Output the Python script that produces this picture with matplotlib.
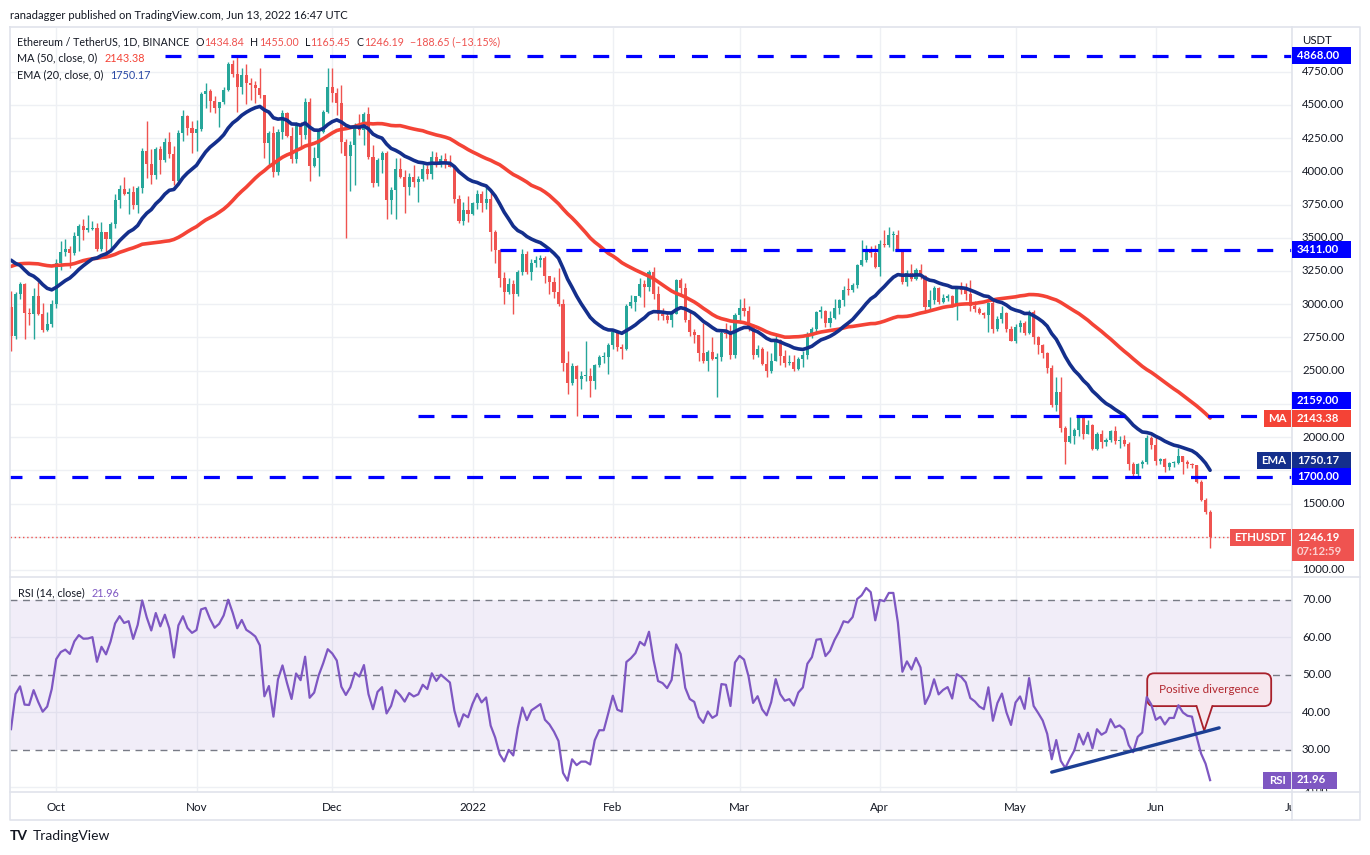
import numpy as np
import pandas as pd
import matplotlib
matplotlib.use('Agg')
import matplotlib.pyplot as plt
from matplotlib.patches import Rectangle, FancyBboxPatch, Polygon
from matplotlib.lines import Line2D
from matplotlib.transforms import IdentityTransform, Bbox

plt.rcParams['font.family'] = ['Lato', 'DejaVu Sans']

# ---- data: ETH/USDT daily, 2021-09-21 .. 2022-06-13 ----
start_date = '2021-09-21'

# closes before the visible range (2021-07-20 .. 2021-09-20), only used for indicators
warmup_close = [1785, 1995, 2025, 2123, 2188, 2190, 2230, 2300, 2298, 2382, 2460, 2536,
                2556, 2608, 2508, 2725, 2827, 2890, 3158, 3013, 3164, 3141, 3164, 3045, 3322,
                3265, 3310, 3148, 3012, 3018, 3182, 3286, 3224, 3242, 3321, 3173, 3228, 3096,
                3270, 3242, 3226, 3225, 3433,
                3834, 3787, 3940, 3888, 3952, 3927, 3428, 3497, 3427, 3213, 3266, 3410, 3286,
                3430, 3614, 3572, 3398, 3432, 3330, 2977]

sep_close = [2763, 3077, 3155, 2931, 2926, 3063, 2928, 2806, 2849, 3000]
sep_high = [3100, 3095, 3170, 3160, 2970, 3120, 3170, 3010, 2940, 3030]
sep_low = [2651, 2740, 3036, 2740, 2845, 2742, 2920, 2793, 2802, 2830]

oct_close = [3308, 3390, 3418, 3382, 3517, 3588, 3562, 3564, 3577, 3414, 3544, 3493, 3605, 3786,
             3868, 3828, 3846, 3746, 3875, 4155, 4054, 3972, 4170, 4085, 4220, 4132, 3924, 4287,
             4414, 4325, 4288]
oct_high = [3340, 3472, 3493, 3440, 3546, 3600, 3642, 3670, 3628, 3610, 3615, 3545, 3620, 3827,
            3895, 3960, 3875, 3891, 3888, 4179, 4375, 4170, 4180, 4190, 4250, 4295, 4190, 4310,
            4460, 4425, 4379]
oct_low = [2970, 3260, 3360, 3273, 3370, 3400, 3480, 3540, 3555, 3400, 3400, 3390, 3425, 3577,
           3727, 3820, 3680, 3718, 3690, 3840, 3950, 3905, 3940, 3980, 4070, 4100, 3900, 3900,
           4230, 4270, 4140]

nov_close = [4321, 4584, 4605, 4532, 4475, 4518, 4611, 4808, 4730, 4634, 4724, 4664, 4646, 4625,
             4575, 4214, 4288, 3995, 4299, 4436, 4265, 4092, 4340, 4270, 4525, 4040, 4097, 4294,
             4445, 4632]
nov_high = [4388, 4600, 4667, 4616, 4570, 4525, 4632, 4825, 4838, 4868, 4780, 4810, 4700, 4680,
            4775, 4575, 4300, 4340, 4315, 4465, 4450, 4330, 4374, 4370, 4550, 4550, 4180, 4300,
            4460, 4778]
nov_low = [4150, 4300, 4475, 4450, 4440, 4330, 4505, 4607, 4710, 4450, 4580, 4510, 4540, 4515,
           4550, 4100, 4050, 3960, 3975, 4240, 4260, 4065, 4063, 4180, 4240, 3930, 4035, 3965,
           4290, 4440]

dec_close = [4587, 4515, 4220, 4115, 4195, 4350, 4310, 4432, 4110, 3910, 4085, 4135, 3785, 3860,
             4020, 3960, 3880, 3960, 3922, 3940, 4020, 3980, 4110, 4045, 4095, 4065, 4035, 3795,
             3630, 3710, 3680]
dec_high = [4778, 4630, 4650, 4240, 4230, 4365, 4430, 4445, 4486, 4195, 4100, 4150, 4150, 3880,
            4100, 4100, 4013, 3990, 4045, 3967, 4058, 4050, 4150, 4145, 4125, 4135, 4125, 4040,
            3825, 3770, 3815]
dec_low = [4525, 4425, 4140, 3500, 3850, 3900, 4275, 4200, 4095, 3880, 3890, 3990, 3640, 3676,
           3640, 3950, 3685, 3820, 3880, 3770, 3925, 3945, 3940, 4030, 4035, 4025, 4030, 3760,
           3610, 3595, 3620]

jan_close = [3765, 3830, 3760, 3790, 3540, 3410, 3195, 3090, 3155, 3080, 3240, 3375, 3245, 3310,
             3330, 3350, 3210, 3165, 3095, 3000, 2560, 2410, 2535, 2440, 2460, 2460, 2420, 2545,
             2600, 2600, 2690]
jan_high = [3770, 3860, 3855, 3880, 3850, 3560, 3415, 3240, 3200, 3180, 3255, 3415, 3400, 3340,
            3365, 3370, 3360, 3210, 3205, 3270, 3040, 2650, 2555, 2540, 2500, 2725, 2520, 2550,
            2620, 2640, 2705]
jan_low = [3675, 3715, 3695, 3720, 3400, 3310, 3130, 3000, 3080, 2930, 3060, 3220, 3225, 3180,
           3280, 3280, 3160, 3075, 3050, 2990, 2500, 2325, 2390, 2160, 2360, 2420, 2300, 2360,
           2530, 2560, 2475]

feb_close = [2790, 2680, 2665, 2990, 3020, 3060, 3150, 3130, 3240, 3075, 2930, 2915, 2880, 2930,
             3185, 3125, 2885, 2790, 2765, 2630, 2575, 2640, 2585, 2600, 2780, 2775, 2620, 2920]
feb_high = [2815, 2800, 2700, 3000, 3070, 3065, 3195, 3180, 3260, 3280, 3140, 2970, 2950, 2945,
            3190, 3200, 3160, 2945, 2810, 2770, 2860, 2655, 2750, 2630, 2800, 2860, 2840, 2935]
feb_low = [2660, 2650, 2590, 2655, 2975, 2950, 3055, 2980, 3100, 3040, 2885, 2880, 2860, 2830,
           2925, 3060, 2865, 2760, 2705, 2570, 2560, 2495, 2580, 2300, 2570, 2745, 2590, 2595]

mar_close = [2975, 2950, 2835, 2620, 2665, 2550, 2495, 2575, 2730, 2610, 2555, 2565, 2515, 2590,
             2620, 2770, 2815, 2945, 2950, 2860, 2895, 2970, 3030, 3110, 3105, 3145, 3295, 3330,
             3400, 3385, 3280]
mar_high = [3040, 3050, 2985, 2850, 2690, 2675, 2645, 2630, 2770, 2735, 2655, 2615, 2620, 2605,
            2650, 2790, 2830, 2950, 2990, 2955, 2950, 3040, 3040, 3135, 3195, 3160, 3300, 3480,
            3445, 3435, 3445]
mar_low = [2860, 2910, 2800, 2590, 2600, 2545, 2450, 2480, 2570, 2545, 2530, 2545, 2500, 2505,
           2530, 2590, 2745, 2775, 2900, 2830, 2825, 2890, 2930, 2990, 3070, 3090, 3125, 3290,
           3320, 3355, 3270]

apr_close = [3450, 3445, 3520, 3520, 3410, 3170, 3235, 3190, 3260, 3210, 2980, 3030, 3120, 3020,
             3045, 3060, 2990, 3120, 3105, 3075, 2985, 2965, 2935, 2920, 3010, 2810, 2890, 2935,
             2815, 2725]
apr_high = [3480, 3555, 3580, 3550, 3555, 3415, 3255, 3300, 3270, 3305, 3220, 3105, 3140, 3130,
            3075, 3080, 3070, 3130, 3170, 3160, 3180, 3025, 2980, 2945, 3020, 3040, 2915, 2985,
            2940, 2835]
apr_low = [3210, 3430, 3430, 3400, 3400, 3155, 3140, 3175, 3180, 3190, 2950, 2960, 3000, 3000,
           3010, 3025, 2980, 2885, 3075, 3035, 2950, 2940, 2925, 2895, 2790, 2780, 2795, 2860,
           2790, 2720]

may_close = [2830, 2860, 2780, 2940, 2750, 2695, 2635, 2520, 2240, 2340, 2070, 1960, 2010, 2055,
             2145, 2025, 2090, 1910, 2020, 1960, 1975, 2045, 1970, 1980, 1945, 1800, 1725, 1795,
             1815, 1995, 1940]
may_high = [2850, 2885, 2875, 2955, 2955, 2760, 2700, 2640, 2540, 2455, 2455, 2085, 2150, 2070,
            2150, 2150, 2125, 2095, 2040, 2055, 1990, 2055, 2085, 2005, 2015, 1960, 1815, 1805,
            1830, 2015, 2005]
may_low = [2705, 2790, 2765, 2775, 2700, 2625, 2595, 2485, 2230, 2200, 2035, 1800, 1955, 1950,
           2010, 1985, 2020, 1905, 1905, 1920, 1935, 1965, 1950, 1915, 1935, 1750, 1705, 1710,
           1770, 1800, 1910]

jun_close = [1820, 1835, 1775, 1805, 1805, 1860, 1815, 1795, 1790, 1665, 1530, 1434.84, 1246.19]
jun_high = [2000, 1845, 1840, 1810, 1820, 1915, 1860, 1830, 1805, 1790, 1680, 1545, 1455.00]
jun_low = [1790, 1800, 1735, 1755, 1775, 1800, 1720, 1770, 1770, 1655, 1520, 1420, 1165.45]

# analyst's horizontal levels and where they start
level_prices = [4868, 3411, 2159, 1700]
level_starts = ['2021-10-25', '2022-01-07', '2021-12-20', '2021-09-20']

# rsi trend line
trend_dates = ['2022-05-09', '2022-06-15']
trend_rsi = [24.1, 35.9]

month_labels = ['Oct', 'Nov', 'Dec', '2022', 'Feb', 'Mar', 'Apr', 'May', 'Jun', 'Jul']
month_dates = ['2021-10-01', '2021-11-01', '2021-12-01', '2022-01-01', '2022-02-01',
               '2022-03-01', '2022-04-01', '2022-05-01', '2022-06-01', '2022-07-01']
price_grid = [1000, 1250, 1500, 1750, 2000, 2250, 2500, 2750, 3000, 3250, 3500, 3750, 4000,
              4250, 4500, 4750]
price_shown = [1000, 1500, 2000, 2500, 2750, 3000, 3250, 3500, 3750, 4000, 4250, 4500, 4750]
rsi_shown = [30, 40, 50, 60, 70]

close = np.array(sep_close + oct_close + nov_close + dec_close + jan_close + feb_close +
                 mar_close + apr_close + may_close + jun_close, dtype=float)
high = np.array(sep_high + oct_high + nov_high + dec_high + jan_high + feb_high +
                mar_high + apr_high + may_high + jun_high, dtype=float)
low = np.array(sep_low + oct_low + nov_low + dec_low + jan_low + feb_low +
               mar_low + apr_low + may_low + jun_low, dtype=float)

t0 = pd.Timestamp(start_date)
def day(d):
    return (pd.Timestamp(d) - t0).days

nw = len(warmup_close)
full = pd.Series(np.concatenate([np.array(warmup_close, dtype=float), close]))
opens = full.shift(1).to_numpy()[nw:]
ema20 = full.ewm(span=20, adjust=False).mean().to_numpy()[nw:]
ma50 = full.rolling(50).mean().to_numpy()[nw:]
delta = full.diff()
gain = delta.clip(lower=0).ewm(alpha=1 / 14, adjust=False).mean()
loss = (-delta.clip(upper=0)).ewm(alpha=1 / 14, adjust=False).mean()
rsi = (100 - 100 / (1 + gain / loss)).to_numpy()[nw:]

x = np.arange(len(close))

# ---- layout ----
W, H = 1370, 855
fig = plt.figure(figsize=(13.7, 8.55), dpi=100)
fig.patch.set_facecolor('white')

def fx(px):
    return px / W

def fy(py):
    return 1 - py / H

GREEN = '#26a69a'
RED = '#ef5350'
DARK = '#131722'
GRID = '#eef0f4'
BORDER = '#e0e3eb'

ax = fig.add_axes([fx(10), fy(577), fx(1292) - fx(10), fy(28) - fy(577)])
ax_rsi = fig.add_axes([fx(10), fy(792), fx(1292) - fx(10), fy(577) - fy(792)])
ax_x = fig.add_axes([fx(10), fy(820), fx(1292) - fx(10), fy(792) - fy(820)])

xlim = (-0.22, 283.1)
for a in (ax, ax_rsi, ax_x):
    a.set_xlim(*xlim)
    a.set_xticks([])
    a.set_yticks([])
    for s in a.spines.values():
        s.set_visible(False)
ax.set_ylim(947.3, 5078.6)
ax_rsi.set_ylim(18.8, 76.13)
ax_x.set_ylim(0, 1)

month_x = [day(d) for d in month_dates]
for a in (ax, ax_rsi):
    for mx in month_x:
        a.axvline(mx, color=GRID, lw=1, zorder=0)
for p in price_grid:
    ax.axhline(p, color=GRID, lw=1, zorder=0)
for v in (20, 40, 60):
    ax_rsi.axhline(v, color=GRID, lw=1, zorder=0)

# ---- candles ----
up = close >= opens
col = np.where(up, GREEN, RED)
body_lo = np.minimum(opens, close)
body_h = np.maximum(np.abs(close - opens), 8)
ax.vlines(x, np.minimum(low, body_lo), np.maximum(high, body_lo + body_h), colors=col, lw=1,
          zorder=2)
ax.bar(x, body_h, bottom=body_lo, width=0.68, color=col, linewidth=0, zorder=2.1)

ax.plot(x, ma50, color='#f44336', lw=2.6, zorder=3, solid_capstyle='round')
ax.plot(x, ema20, color='#142f8c', lw=2.6, zorder=3, solid_capstyle='round')

for p, s in zip(level_prices, level_starts):
    ax.hlines(p, day(s), xlim[1] + 1, color='#0000ff', lw=2.3, linestyles=(0, (5.0, 5.3)),
              zorder=4)

ax.axhline(close[-1], color=RED, lw=1, ls=(0, (1, 2)), zorder=3)

# ---- rsi panel ----
ax_rsi.axhspan(30, 70, color='#7e57c2', alpha=0.1, lw=0, zorder=0)
for v in (30, 50, 70):
    ax_rsi.axhline(v, color='#787b86', lw=1, ls=(0, (5, 4)), zorder=1)
ax_rsi.plot(x, rsi, color='#7e57c2', lw=1.6, zorder=3)
ax_rsi.plot([day(d) for d in trend_dates], trend_rsi, color='#1c3f94', lw=2.4, zorder=4,
            solid_capstyle='round')

# callout "Positive divergence"
box_fc = '#f7e8ef'
box_ec = '#a8202b'
bx0, by0 = ax_rsi.transData.transform((day('2022-05-30') + 0.1, 41.7))
bx1, by1 = ax_rsi.transData.transform((day('2022-06-26') + 0.5, 50.45))
ax_rsi.add_patch(FancyBboxPatch((bx0, by0), bx1 - bx0, by1 - by0,
                                boxstyle='round,pad=0,rounding_size=7', fc=box_fc, ec=box_ec,
                                lw=1.3, transform=IdentityTransform(), zorder=2))
ptr_x = [day('2022-06-10'), day('2022-06-11') + 0.7, day('2022-06-13') + 0.5]
ptr_y = [41.7, 35.15, 41.7]
ax_rsi.add_patch(Polygon([(ptr_x[0], 42.1), (ptr_x[1], ptr_y[1]), (ptr_x[2], 42.1)],
                         closed=True, fc=box_fc, ec='none', zorder=2.2))
ax_rsi.plot(ptr_x, ptr_y, color=box_ec, lw=1.3, zorder=2.3)
ax_rsi.text((day('2022-05-30') + day('2022-06-26') + 0.6) / 2, 46.1, 'Positive divergence',
            color='#b2282f', fontsize=8.4, ha='center', va='center', zorder=5)

# ---- x labels ----
for mx, lab in zip(month_x, month_labels):
    ax_x.text(mx, 0.45, lab, ha='center', va='center', fontsize=8.4, color=DARK, clip_on=True)

# ---- frame ----
def fline(xs, ys, **kw):
    fig.add_artist(Line2D(xs, [H - v for v in ys], transform=IdentityTransform(),
                          color=BORDER, lw=1.2, zorder=5, **kw))

fline([10, 1360, 1360, 10, 10], [27, 27, 820, 820, 27])
fline([10, 1360], [577, 577])
fline([10, 1360], [792, 792])
fline([1292, 1292], [27, 820])

# ---- texts ----
ID = IdentityTransform()

def ptxt(xp, yp, s, **kw):
    return fig.text(xp, yp, s, transform=ID, **kw)

def run(xp, ytop, parts, size):
    r = fig.canvas.get_renderer()
    for s, c, gap in parts:
        t = ptxt(xp, H - ytop, s, color=c, fontsize=size, va='center', ha='left', zorder=6)
        xp = t.get_window_extent(renderer=r).x1 + gap
    return xp

ptxt(10, H - 15, 'ranadagger published on TradingView.com, Jun 13, 2022 16:47 UTC', color=DARK,
     fontsize=8.1, va='center', ha='left')
run(17, 42, [('Ethereum / TetherUS, 1D, BINANCE', DARK, 6), ('O', DARK, 0.5), ('1434.84', RED, 6),
             ('H', DARK, 0.5), ('1455.00', RED, 6), ('L', DARK, 0.5), ('1165.45', RED, 6),
             ('C', DARK, 0.5), ('1246.19', RED, 6), ('\u2212188.65 (\u221213.15%)', RED, 0)], 7.7)
run(17, 58, [('MA (50, close, 0)', DARK, 7), ('2143.38', '#f44336', 0)], 7.8)
run(17, 75, [('EMA (20, close, 0)', DARK, 7), ('1750.17', '#2a49a5', 0)], 7.8)
run(18, 593, [('RSI (14, close)', DARK, 7), ('21.96', '#7e57c2', 0)], 7.8)

ptxt(1302, H - 40, 'USDT', color=DARK, fontsize=8.2, va='center', ha='left')

def price_px(p):
    return ax.transData.transform((0, p))[1]

def rsi_px(v):
    return ax_rsi.transData.transform((0, v))[1]

for p in price_shown:
    ptxt(1302, price_px(p), f'{p:.2f}', color=DARK, fontsize=8.2, va='center', ha='left')
for v in rsi_shown:
    ptxt(1302, rsi_px(v), f'{v:.2f}', color=DARK, fontsize=8.2, va='center', ha='left')

def box(x0, x1, yc, h, color):
    fig.add_artist(Rectangle((x0, yc - h / 2), x1 - x0, h, transform=ID, fc=color, ec='none',
                             zorder=7))

def badge(yc, text, color, x1=1351, label=None, lx0=None):
    box(1292, x1, yc, 17, color)
    ptxt(1297, yc, text, color='white', fontsize=8.2, weight='bold', va='center', ha='left',
         zorder=8)
    if label:
        box(lx0, 1291, yc, 17, color)
        ptxt((lx0 + 1291) / 2, yc, label, color='white', fontsize=8.2, weight='bold',
             va='center', ha='center', zorder=8)

badge(price_px(4868), '4868.00', '#0000ff')
badge(price_px(3411), '3411.00', '#0000ff')
badge(price_px(2159) + 15, '2159.00', '#0000ff')
badge(price_px(2143.38), '2143.38', '#f44336', label='MA', lx0=1264)
badge(price_px(1750.17) + 9.5, '1750.17', '#142f8c', label='EMA', lx0=1257)
badge(price_px(1700), '1700.00', '#0000ff')

# last price badge with countdown
yl = price_px(close[-1])
fig.add_artist(Rectangle((1292, yl - 23.5), 62, 31.5, transform=ID, fc=RED, ec='none', zorder=7))
box(1230, 1291, yl, 17, RED)
ptxt(1260.5, yl, 'ETHUSDT', color='white', fontsize=8.2, weight='bold', va='center',
     ha='center', zorder=8)
ptxt(1297, yl, f'{close[-1]:.2f}', color='white', fontsize=8.2, weight='bold', va='center',
     ha='left', zorder=8)
ptxt(1297, yl - 14, '07:12:59', color='#fbd0cf', fontsize=8.2, weight='bold', va='center',
     ha='left', zorder=8)

# rsi badge; the 20.00 label peeks out underneath it (reduced so it sits below the badge text)
yb = rsi_px(21.96)
t20 = ptxt(1302, H - 791, '20.00', color=DARK, fontsize=7.2, va='center', ha='left')
t20.set_clip_box(Bbox.from_extents(1292, H - 792, 1360, yb - 8.5))
t20.set_clip_on(True)
box(1292, 1337, yb, 17, '#7e57c2')
box(1263, 1291, yb, 17, '#7e57c2')
ptxt(1277, yb, 'RSI', color='white', fontsize=8.2, weight='bold', va='center', ha='center',
     zorder=8)
ptxt(1297, yb + 1, '21.96', color='white', fontsize=8.2, weight='bold', va='center', ha='left',
     zorder=8)

# logo
ptxt(10, H - 836, 'TV', color=DARK, fontsize=10, weight='bold', va='center', ha='left')
ptxt(33, H - 836, 'TradingView', color=DARK, fontsize=10, va='center', ha='left')

fig.savefig('out.png', dpi=100, facecolor='white')
